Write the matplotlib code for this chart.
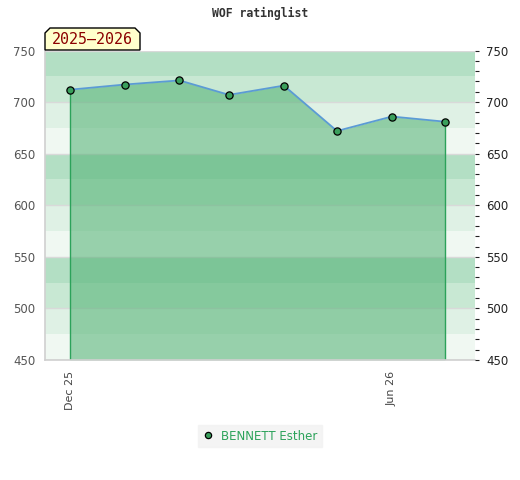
import datetime as dt
import matplotlib
matplotlib.use("Agg")
import matplotlib.pyplot as plt
from matplotlib.lines import Line2D
from matplotlib.patches import Polygon

# --- datos ---
player = "BENNETT Esther"
season = "2025\u20132026"
months = [dt.date(2025, 12, 1), dt.date(2026, 1, 1), dt.date(2026, 2, 1),
          dt.date(2026, 3, 1), dt.date(2026, 4, 1), dt.date(2026, 5, 1),
          dt.date(2026, 6, 1), dt.date(2026, 7, 1)]
ratings = [712, 717, 721, 707, 716, 672, 686, 681]
tick_dates = [dt.date(2025, 12, 1), dt.date(2026, 6, 1)]
tick_labels = ["Dec 25", "Jun 26"]
y_min, y_max = 450, 750

band_colors = ["#b3dfc4", "#c8e8d3", "#dff1e5", "#f0f8f2"]

fig = plt.figure(figsize=(5.2, 4.8), dpi=100)
ax = fig.add_axes([45 / 520, 120 / 480, 430 / 520, 309.5 / 480])

# --- bandas de fondo ---
top = y_max
i = 0
while top > y_min:
    ax.axhspan(top - 25, top, color=band_colors[i % 4], lw=0, zorder=0)
    top -= 25
    i += 1
for g in range(y_min, y_max + 1, 50):
    ax.axhline(g, color="#d9d9d9", lw=1, zorder=0.5)

# --- area, linea y puntos ---
ax.fill_between(months, ratings, y_min, color="#4fb072", alpha=0.55, lw=0, zorder=1)
ax.plot([months[0], months[0]], [y_min, ratings[0]], color="#2ca25a", lw=1, zorder=2)
ax.plot([months[-1], months[-1]], [y_min, ratings[-1]], color="#2ca25a", lw=1, zorder=2)
ax.plot(months, ratings, color="#5b9bd5", lw=1.3, zorder=3)
ax.plot(months, ratings, ls="none", marker="o", ms=5.2, mfc="#3a9f5c", mec="black",
        mew=0.9, zorder=4)

ax.set_xlim(months[0] - dt.timedelta(days=14.5), months[-1] + dt.timedelta(days=17.3))
ax.set_ylim(y_min, y_max)
ax.set_xticks(tick_dates)
ax.set_xticklabels(tick_labels, rotation=90, fontsize=8, color="#444444")
ax.set_yticks(range(y_min, y_max + 1, 50))
ax.tick_params(axis="x", length=0, pad=8)
ax.tick_params(axis="y", length=0, pad=7, labelsize=8.5, labelcolor="#555555")
for s in ["top", "right"]:
    ax.spines[s].set_visible(False)
for s in ["left", "bottom"]:
    ax.spines[s].set_color("#d0d0d0")
    ax.spines[s].set_linewidth(1.2)

# --- eje derecho ---
ax2 = ax.twinx()
ax2.set_ylim(y_min, y_max)
ax2.set_yticks(range(y_min, y_max + 1, 50))
ax2.set_yticks(range(y_min, y_max + 1, 10), minor=True)
ax2.tick_params(axis="y", which="both", direction="out", length=3, width=0.8,
                color="#222222", pad=5, labelsize=8.5, labelcolor="#222222")
for s in ax2.spines.values():
    s.set_visible(False)

# --- titulo y etiqueta de temporada ---
fig.text(0.5, 1 - 13 / 480, "WOF ratinglist", ha="center", va="center",
         family="DejaVu Sans Mono", weight="bold", fontsize=8.3, color="#333333")

px = lambda x, y: (x / 520, 1 - y / 480)
box = Polygon([px(45, 50), px(45, 33), px(50, 28), px(135, 28), px(140, 33), px(140, 50)],
              closed=True, transform=fig.transFigure, facecolor="#ffffcc",
              edgecolor="black", lw=1, zorder=10)
fig.patches.append(box)
fig.text(92.5 / 520, 1 - 40 / 480, season, ha="center", va="center",
         family="DejaVu Sans Mono", fontsize=10.8, color="#8b0000", zorder=11)

# --- leyenda ---
handle = Line2D([], [], ls="none", marker="o", ms=4.5, mfc="#3a9f5c", mec="black", mew=0.9)
leg = fig.legend([handle], [player], loc="center", bbox_to_anchor=(260 / 520, 1 - 436 / 480),
                 frameon=True, fontsize=8.5, handlelength=1, handletextpad=0.6,
                 borderpad=0.4, fancybox=False)
leg.get_frame().set_facecolor("#f2f2f2")
leg.get_frame().set_edgecolor("#f2f2f2")
for t in leg.get_texts():
    t.set_color("#2ca25a")

fig.savefig("out.png", dpi=100)
